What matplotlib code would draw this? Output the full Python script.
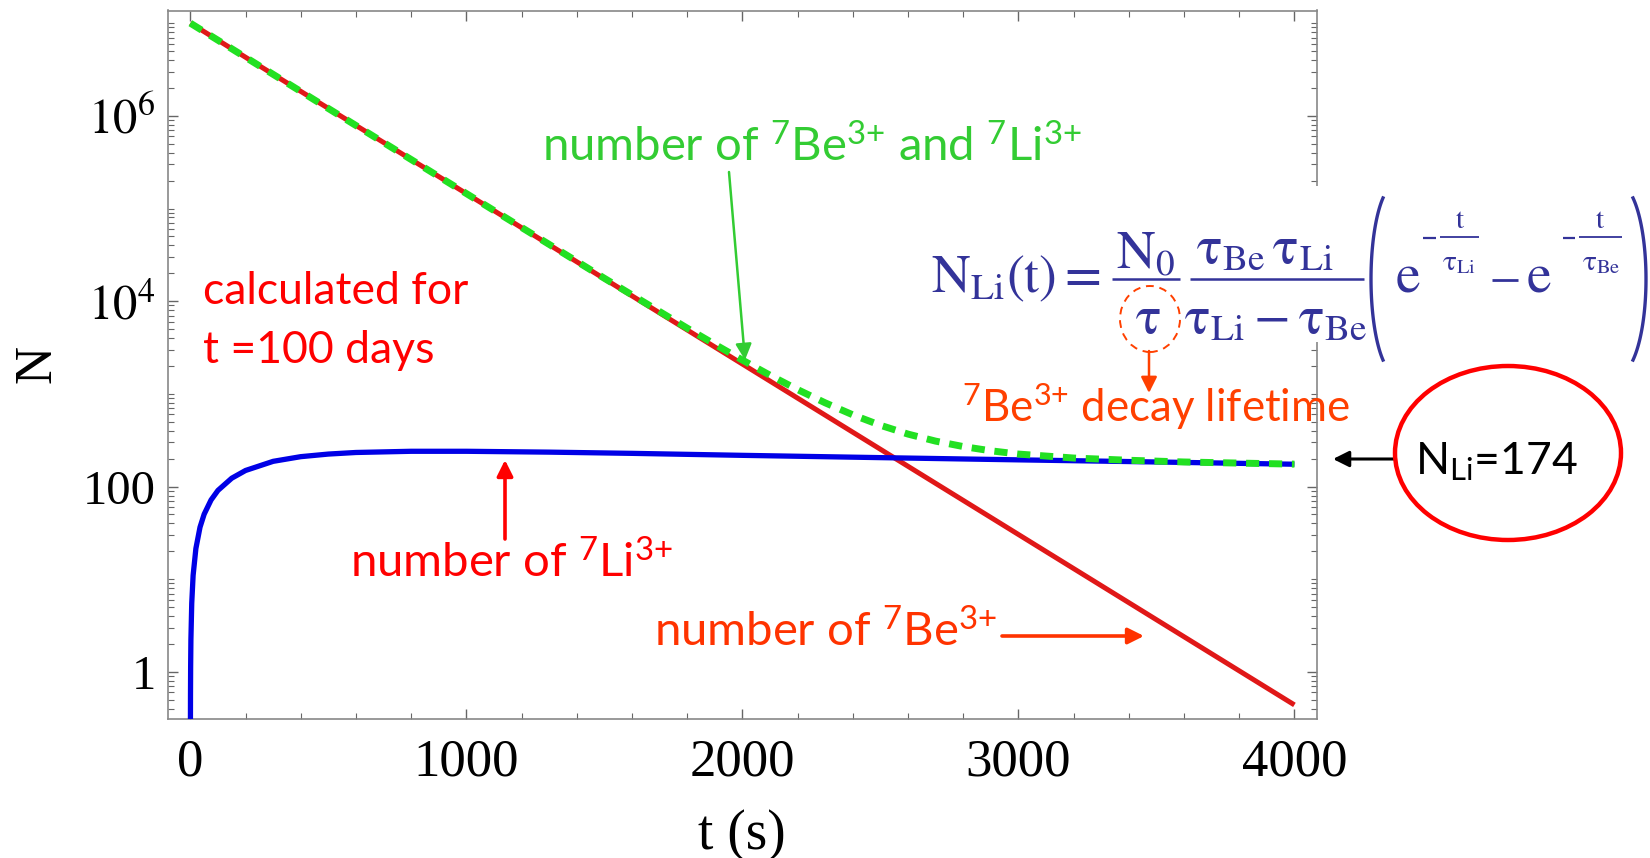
import numpy as np
import matplotlib.pyplot as plt
from matplotlib.lines import Line2D
from matplotlib.patches import Ellipse, FancyArrowPatch, Rectangle
from matplotlib.ticker import LogLocator, MultipleLocator, NullFormatter

plt.rcParams['mathtext.fontset'] = 'stix'
plt.rcParams['mathtext.rm'] = 'Lato'
plt.rcParams['mathtext.it'] = 'Lato:italic'
plt.rcParams['mathtext.bf'] = 'Lato:bold'

# 7Be3+ population (straight line on the log axis)
t_be = [0, 4000]
n_be = [1.0e7, 0.44]

# 7Li3+ population
t_li = [0.2, 0.5, 1, 2, 5, 10, 20, 35, 50, 75, 100, 150, 200, 300, 400, 500,
        600, 800, 1000, 1300, 1600, 2000, 2500, 3000, 3500, 4000]
n_li = [0.23, 0.56, 1.12, 2.23, 5.5, 11.0, 21.4, 36.4, 50.3, 71.6, 90.8, 123,
        149, 187, 210, 224, 233, 240, 240, 235, 228, 217, 205, 194, 184, 174]

# 7Be3+ + 7Li3+ total
t_sum = [0, 500, 1000, 1500, 1800, 1900, 2000, 2100, 2200, 2300, 2400, 2500,
         2600, 2700, 2800, 2900, 3000, 3200, 3400, 3600, 3800, 4000]
n_sum = [1.0e7, 1.2e6, 1.45e5, 17660, 5115, 3424, 2315, 1588, 1112, 800, 594,
         458, 368, 309, 270, 243, 224, 203, 192, 184, 179, 174.4]

x_ticks = [0, 1000, 2000, 3000, 4000]
y_ticks = [1, 1e2, 1e4, 1e6]
y_tick_labels = ['1', '100', r'$10^{4}$', r'$10^{6}$']

W, H = 1650, 858
NAVY = '#333399'


def fp(x, y):
    # pixel position (from top-left) -> figure fraction
    return x / W, 1 - y / H


fig = plt.figure(figsize=(W / 100, H / 100), dpi=100)
ax = fig.add_axes([168 / W, 1 - 719 / H, (1316.5 - 168) / W, (719 - 10.5) / H])

ax.plot(t_be, n_be, color='#e01818', lw=3.6, solid_capstyle='butt', zorder=3)
ax.plot(t_li, n_li, color='#0000e6', lw=3.8, solid_capstyle='butt', zorder=4)
ax.plot(t_sum, n_sum, color='#22e022', lw=5.0, dashes=(1.9, 1.4), zorder=5)

ax.set_yscale('log')
ax.set_xlim(-81, 4080)
ax.set_ylim(0.31, 1.37e7)

ax.set_xticks(x_ticks)
ax.xaxis.set_minor_locator(MultipleLocator(200))
ax.set_yticks(y_ticks, labels=y_tick_labels)
ax.yaxis.set_minor_locator(LogLocator(base=10, subs=np.arange(1, 10), numticks=60))
ax.yaxis.set_minor_formatter(NullFormatter())

ax.tick_params(which='both', direction='in', top=True, right=True, color='#666666')
ax.tick_params(which='major', length=7, width=1.0)
ax.tick_params(which='minor', length=4, width=0.8)
ax.tick_params(axis='x', pad=14)
ax.tick_params(axis='y', pad=9)
for lbl in ax.get_xticklabels():
    lbl.set_fontfamily('Liberation Serif')
    lbl.set_fontsize(38)
for lbl in ax.get_yticklabels():
    lbl.set_fontfamily('Liberation Serif')
    lbl.set_fontsize(35)
for sp in ax.spines.values():
    sp.set_color('#888888')
    sp.set_linewidth(1.2)

fig.text(*fp(742, 835), 't (s)', family='Liberation Serif', fontsize=40,
         ha='center', va='center')
fig.text(*fp(37, 364), 'N', family='Liberation Serif', fontsize=38,
         rotation=90, ha='center', va='center')

# annotation labels
sans = dict(family='Lato', math_fontfamily='custom', ha='left', va='center')

fig.text(*fp(542, 146), r'number of $^{7}$Be$^{3{+}}$ and $^{7}$Li$^{3{+}}$',
         color='#33cc33', fontsize=34, **sans)
fig.text(*fp(203, 321), 'calculated for\nt =100 days', color='#ff0000',
         fontsize=32, linespacing=1.55, **sans)
fig.text(*fp(350, 562), r'number of $^{7}$Li$^{3{+}}$', color='#ff0000',
         fontsize=34, **sans)
fig.text(*fp(654, 631), r'number of $^{7}$Be$^{3{+}}$', color='#ff3300',
         fontsize=34, **sans)
fig.text(*fp(962, 407), r'$^{7}$Be$^{3{+}}$ decay lifetime', color='#ff4000',
         fontsize=31.5, **sans)
fig.text(*fp(1415, 462), r'N$_{\mathrm{Li}}$=174', color='black',
         fontsize=32, **sans)

# formula N_Li(t), laid out piece by piece on a white patch
fig.add_artist(Rectangle(fp(925, 342), (1650 - 925) / W, (342 - 186) / H,
                         transform=fig.transFigure, facecolor='white',
                         edgecolor='none', zorder=1.5))


def ftext(x, y, s, size=38.5, ha='center'):
    fig.text(*fp(x, y), s, fontsize=size, color=NAVY, ha=ha, va='baseline',
             math_fontfamily='stix', zorder=2)


def fbar(x0, x1, y, lw=1.8):
    fig.add_artist(Line2D([x0 / W, x1 / W], [1 - y / H] * 2,
                          transform=fig.transFigure, color=NAVY, lw=lw,
                          solid_capstyle='butt', zorder=2))


def fparen(x_out, x_tip, y_mid, half_h, side):
    # thin elliptic arc standing in for a tall bracket; side=1 left, -1 right
    a = abs(x_tip - x_out) / 0.479
    cx = x_out + a * side
    ang = np.deg2rad(np.linspace(121.4, 238.6, 60))
    xs = cx + side * a * np.cos(ang)
    ys = y_mid + half_h / 0.853 * np.sin(ang)
    fig.add_artist(Line2D(xs / W, 1 - ys / H, transform=fig.transFigure,
                          color=NAVY, lw=2.4, zorder=2))


ftext(931, 292, r'$\mathrm{N_{Li}(t)=}$', ha='left')
ftext(1146, 268, r'$\mathrm{N_0}$')
fbar(1112, 1180, 279)
ftext(1148, 333, r'$\mathrm{\tau}$')
ftext(1265, 263, r'$\mathrm{\tau_{Be}\,\tau_{Li}}$')
fbar(1190, 1364, 279)
ftext(1276, 333, r'$\mathrm{\tau_{Li}-\tau_{Be}}$')

fparen(1371, 1383, 279, 81, 1)
ftext(1395, 292, r'$\mathrm{e}$', size=40, ha='left')
fbar(1423, 1436, 238, lw=1.6)
fbar(1440, 1479, 237, lw=1.3)
ftext(1460, 228, r'$\mathrm{t}$', size=21)
ftext(1459, 270, r'$\mathrm{\tau_{Li}}$', size=21)
fbar(1492, 1518, 280, lw=2.0)
ftext(1526, 292, r'$\mathrm{e}$', size=40, ha='left')
fbar(1563, 1575, 238, lw=1.6)
fbar(1579, 1622, 237, lw=1.3)
ftext(1600, 228, r'$\mathrm{t}$', size=21)
ftext(1601, 270, r'$\mathrm{\tau_{Be}}$', size=21)
fparen(1646, 1633, 279, 81, -1)

# arrows from labels to curves
arrows = [
    ((729, 172), (745, 360), '#33cc33', 1.8),
    ((505, 539), (505, 460), '#ff0000', 2.6),
    ((1002, 636), (1144, 636), '#ff3300', 2.6),
    ((1149, 351), (1149, 393), '#ff4000', 1.8),
    ((1395, 459), (1333, 459), 'black', 2.2),
]
for a, b, c, w in arrows:
    fig.add_artist(FancyArrowPatch(fp(*a), fp(*b), transform=fig.transFigure,
                                   arrowstyle='-|>', mutation_scale=24,
                                   color=c, lw=w, shrinkA=0, shrinkB=0,
                                   zorder=3))

fig.add_artist(Ellipse(fp(1150, 319), 60 / W, 66 / H, transform=fig.transFigure,
                       fill=False, edgecolor='#ff4000', lw=1.4, ls=(0, (4, 3)),
                       zorder=3))
fig.add_artist(Ellipse(fp(1508, 453), 226 / W, 174 / H, transform=fig.transFigure,
                       fill=False, edgecolor='#ff0000', lw=3.2, zorder=3))

fig.savefig('out.png', dpi=100)
